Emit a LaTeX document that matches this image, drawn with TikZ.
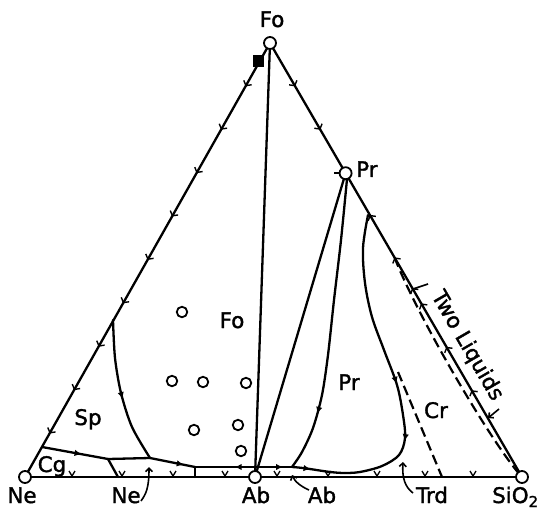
\documentclass[tikz,border=0pt]{standalone}
\usepackage{fontspec}
\setmainfont{DejaVu Sans}
\newfontfamily\lblfont{DejaVu Sans}[BoldFont={DejaVu Sans},BoldFeatures={FakeBold=1.6}]
\usetikzlibrary{arrows.meta,decorations.markings}
\tikzset{
  bnd/.style={line width=2.3bp, line cap=round, line join=round},
  edgeline/.style={line width=2.3bp, line cap=round},
  lbl/.style={font=\lblfont\bfseries\fontsize{21.5}{25}\selectfont, inner sep=0pt},
  vtx/.style={circle, draw, fill=white, line width=1.8bp, minimum size=12bp, inner sep=0pt},
  dat/.style={circle, draw, line width=1.8bp, minimum size=10.5bp, inner sep=0pt},
  fwd/.style={postaction={decorate,decoration={markings,mark=at position #1 with {\arrow{Latex[length=7bp,width=6.5bp]}}}}},
  bwd/.style={postaction={decorate,decoration={markings,mark=at position #1 with {\arrowreversed{Latex[length=7bp,width=6.5bp]}}}}},
  barb/.style={postaction={decorate,decoration={markings,mark=at position #1 with {\arrow{Straight Barb[length=3.5bp,width=9bp,line width=1.4bp]}}}}},
  rbarb/.style={postaction={decorate,decoration={markings,mark=at position #1 with {\arrowreversed{Straight Barb[length=3.5bp,width=9bp,line width=1.4bp]}}}}},
  barbrow/.style={postaction={decorate,decoration={markings,mark=between positions 0.1 and 0.91 step 0.1 with {\arrow{Straight Barb[length=3.5bp,width=9bp,line width=1.4bp]}}}}},
  lead/.style={line width=1.6bp, -{Straight Barb[length=3.5bp,width=7bp]}},
  thin/.style={line width=1.6bp},
  dsh/.style={line width=2.2bp, dash pattern=on 10bp off 5bp},
  vmark/.pic={\draw[line width=1.3bp, line join=round] (-3,-5) -- (0,0) -- (3,-5);}
}
\begin{document}
\begin{tikzpicture}[x=1bp,y=-1bp]
\useasboundingbox (0,0) rectangle (545,515);
% vertices
\coordinate (Fo) at (270,43);
\coordinate (Ne) at (25,477);
\coordinate (Si) at (522,477);
\coordinate (Ab) at (255,477);
\coordinate (Pr) at (345.6,173.2);

% triangle edges and joins
\draw[edgeline, barbrow] (Fo) -- (Ne);
\draw[edgeline, barb=0.1, barb=0.2, rbarb=0.396, rbarb=0.494, rbarb=0.5645, rbarb=0.6, rbarb=0.7, rbarb=0.8] (Fo) -- (Si);
\draw[edgeline] (Ne) -- (Si);
\draw[edgeline] (Fo) -- (Ab);
\draw[edgeline] (Pr) -- (Ab);

% marks on the base
\foreach \x in {72,122,173,225,277,328,377,425,473}
  \pic at (\x,476) {vmark};

% boundary curves
\draw[bnd, fwd=0.55] plot[smooth] coordinates {(113,320) (115,358) (121,393) (132,427) (150,458)};
\draw[bnd, fwd=0.6] (42,447) -- (108,459);
\draw[bnd] (108,459) -- (150,458);
\draw[bnd] (108,459) -- (118,477);
\draw[bnd, fwd=0.75] (150,458) -- (195,467);
\draw[bnd] (195,467) -- (195,477);
\draw[bnd, fwd=0.35] (256,467) -- (195,467);
\draw[bnd, fwd=0.75] (256,467) -- (292,467);
\draw[bnd, fwd=0.8] plot[smooth] coordinates {(347,179) (341,240) (334,300) (328,355) (322,395) (313,428) (302,452) (292,467)};
\draw[bnd, fwd=0.35] (292,467) .. controls (310,468) and (328,473) .. (345,473);
\draw[bnd, fwd=0.57, fwd=0.76] plot[smooth, tension=0.55] coordinates {(368,215) (363,248) (365,283) (372,317) (384,350) (397,385) (403,415) (405,438) (399,455) (382,466) (360,472) (345,473)};

% dashed lines
\draw[dsh] (394.5,257.4) .. controls (418,318) and (494,447) .. (Si);
\draw[dsh] (398,372) -- (442,477);

% small marks and leaders
\fill (252.5,55) rectangle (263.5,67);
\draw[thin] (334,173) -- (340,173);
\draw[thin] (413,289) -- (428,284);
\draw[lead] (499,409) -- (488,418);
\draw[lead] (141,501) .. controls (146,494) and (149,488) .. (149,467);
\draw[lead] (309,490) .. controls (302,487) and (295,482) .. (292,475);
\draw[lead] (413,493) .. controls (405,487) and (402,478) .. (403,462);

% data points
\node[dat] (d1) at (182,312) {};
\node[dat] (d2) at (172,381) {};
\node[dat] (d3) at (203,382) {};
\node[dat] (d4) at (246,383) {};
\node[dat] (d5) at (194,430) {};
\node[dat] (d6) at (238,425) {};
\node[dat] (d7) at (241,451) {};

% vertex circles
\node[vtx] (cFo) at (Fo) {};
\node[vtx] (cNe) at (Ne) {};
\node[vtx] (cSi) at (Si) {};
\node[vtx] (cAb) at (Ab) {};
\node[vtx] (cPr) at (Pr) {};

% labels
\node[lbl, anchor=base] (tFo) at (272,27) {Fo};
\node[lbl, anchor=base west] (tPr) at (356,177) {Pr};
\node[lbl, anchor=base] (tFoF) at (232,328) {Fo};
\node[lbl, anchor=base] (tSp) at (88,425) {Sp};
\node[lbl, anchor=base] (tCg) at (52,472) {Cg};
\node[lbl, anchor=base] (tPrF) at (349,390) {Pr};
\node[lbl, anchor=base] (tCr) at (436,418) {Cr};
\node[lbl, anchor=base] (tNe1) at (22,503) {Ne};
\node[lbl, anchor=base] (tNe2) at (126,503) {Ne};
\node[lbl, anchor=base] (tAb1) at (256,503) {Ab};
\node[lbl, anchor=base] (tAb2) at (322,503) {Ab};
\node[lbl, anchor=base] (tTrd) at (432,503) {Trd};
\node[lbl, anchor=base west] (tSi) at (492,503) {SiO\textsubscript{2}};
\node[lbl, rotate=-59.9] (tTL) at (467,346) {Two Liquids};
\end{tikzpicture}
\end{document}
